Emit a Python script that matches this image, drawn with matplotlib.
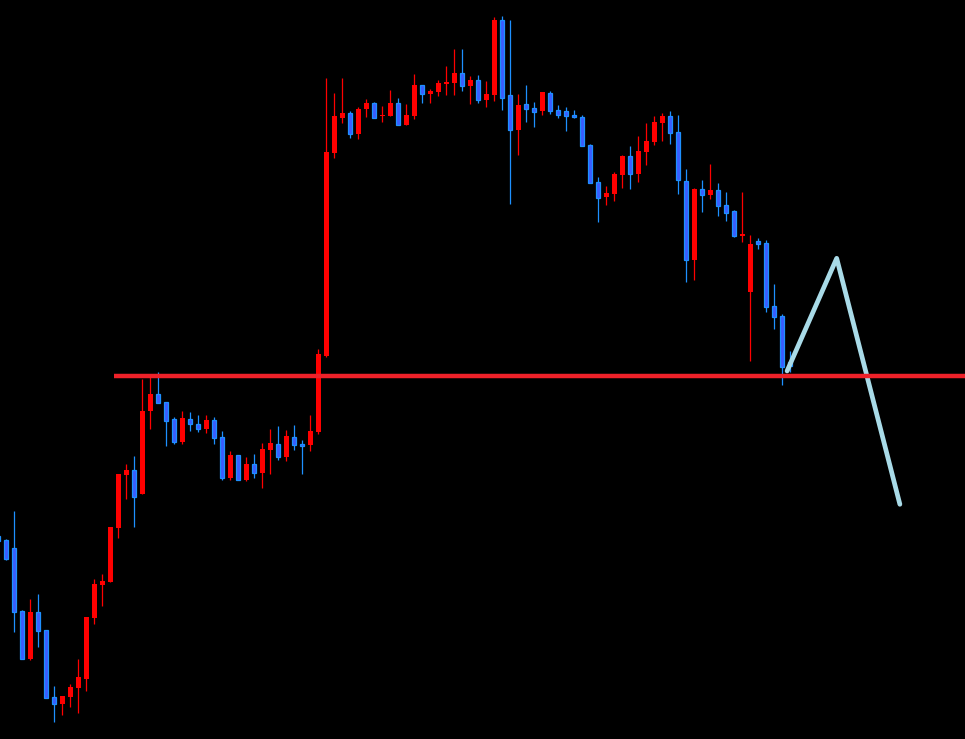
import numpy as np
import matplotlib
matplotlib.use("Agg")
import matplotlib.pyplot as plt

# candle prices, oldest first (index -1 is the half-cut candle at the left edge)
opens = [203, 199, 191, 128, 80, 127, 109, 42, 35, 42, 51, 60, 121, 154, 157, 211, 264, 269, 245, 328,
         345, 337, 320, 297, 320, 315, 310, 319, 302, 261, 284, 259, 275, 266, 289, 295, 282, 302, 295, 294,
         307, 383, 586, 621, 626, 605, 630, 636, 623, 623, 636, 614, 623, 654, 645, 647, 655, 656, 666, 653,
         659, 639, 644, 719, 644, 609, 635, 631, 628, 646, 629, 628, 624, 622, 594, 557, 542, 545, 564, 583,
         565, 587, 597, 616, 623, 607, 558, 479, 550, 544, 549, 534, 528, 503, 447, 498, 496, 433, 423, 377]
highs = [205, 200, 228, 129, 140, 145, 109, 53, 43, 55, 80, 122, 160, 165, 212, 265, 275, 283, 360, 363,
         367, 337, 322, 328, 327, 324, 324, 322, 308, 288, 284, 282, 285, 296, 310, 313, 309, 314, 299, 324,
         390, 661, 646, 661, 628, 632, 640, 637, 633, 649, 641, 635, 665, 654, 650, 659, 673, 690, 690, 663,
         664, 658, 722, 723, 719, 645, 654, 637, 647, 648, 634, 632, 629, 624, 595, 562, 553, 567, 584, 593,
         603, 616, 623, 626, 628, 624, 570, 551, 559, 575, 556, 547, 529, 547, 504, 501, 499, 455, 425, 388]
lows = [196, 179, 107, 80, 79, 92, 41, 17, 24, 32, 26, 48, 115, 133, 157, 201, 240, 212, 245, 310,
        336, 293, 295, 295, 308, 307, 306, 295, 259, 259, 259, 258, 261, 251, 265, 279, 278, 289, 265, 288,
        305, 382, 581, 616, 601, 600, 622, 621, 617, 623, 614, 614, 620, 636, 636, 643, 644, 644, 648, 635,
        636, 632, 638, 629, 535, 584, 617, 612, 624, 625, 621, 608, 621, 593, 556, 517, 534, 538, 551, 550,
        557, 574, 594, 598, 595, 545, 457, 459, 527, 540, 523, 518, 502, 497, 378, 490, 427, 410, 354, 367]
closes = [198, 180, 127, 80, 127, 108, 41, 35, 43, 52, 62, 122, 155, 158, 212, 265, 269, 242, 328, 345,
          336, 318, 297, 321, 315, 310, 319, 301, 261, 284, 259, 275, 266, 290, 296, 282, 303, 294, 293, 308,
          385, 587, 623, 626, 605, 630, 636, 621, 624, 636, 614, 624, 654, 645, 648, 656, 657, 666, 653, 659,
          639, 645, 719, 641, 609, 634, 630, 627, 647, 628, 624, 623, 622, 593, 556, 541, 546, 565, 583, 565,
          588, 598, 617, 623, 606, 559, 479, 550, 544, 549, 533, 526, 503, 505, 495, 495, 432, 422, 372, 373]

# support level and the projected zigzag
level = 363.5
level_start = 13.4
path_t = [97.6, 103.8, 111.7]
path_p = [368, 480.7, 234.7]

o = np.array(opens, float)
h = np.array(highs, float)
l = np.array(lows, float)
c = np.array(closes, float)
t = np.arange(len(o)) - 1

up = c >= o
bull_col = "#ff0000"
bear_face = "#3a5cff"
bear_edge = "#1e90ff"

fig = plt.figure(figsize=(9.65, 7.39), dpi=100, facecolor="black")
ax = fig.add_axes([0, 0, 1, 1])
ax.set_facecolor("black")
ax.axis("off")

# wicks
ax.vlines(t[up], l[up], h[up], color=bull_col, linewidth=0.9, zorder=2)
ax.vlines(t[~up], l[~up], h[~up], color=bear_edge, linewidth=0.9, zorder=2)

# bodies
body_lo = np.minimum(o, c)
body_h = np.maximum(np.abs(c - o), 1.5)
ax.bar(t[up], body_h[up], bottom=body_lo[up], width=0.6,
       color=bull_col, linewidth=0, zorder=3)
ax.bar(t[~up], body_h[~up], bottom=body_lo[~up], width=0.5,
       color=bear_face, edgecolor=bear_edge, linewidth=0.9, zorder=3)

ax.plot(path_t, path_p, color="#a9dbe8", linewidth=3.4,
        solid_capstyle="round", solid_joinstyle="round", zorder=4)
ax.hlines(level, level_start, 125, color="#ee2129", linewidth=3.2, zorder=5)

ax.set_xlim(-0.79, 119.84)
ax.set_ylim(0, 739)

fig.savefig("out.png", dpi=100, facecolor="black")
